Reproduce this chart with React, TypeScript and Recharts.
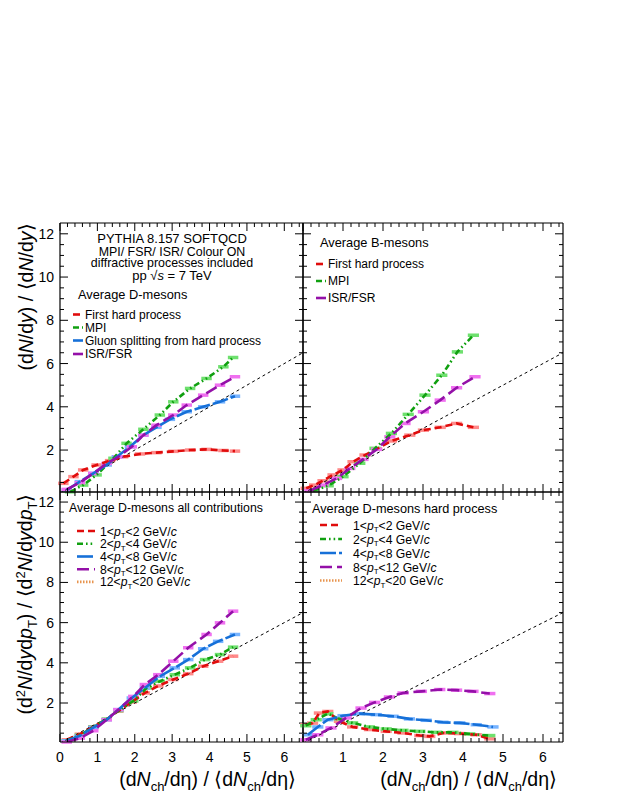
import React from 'react';
import { ComposedChart, Line, Scatter, ErrorBar, XAxis, YAxis } from 'recharts';

const FONT = '"Liberation Sans", Arial, Helvetica, sans-serif';

// ---------- axes ----------
const X_TICKS = [0, 0.2, 0.4, 0.6, 0.8, 1, 1.2, 1.4, 1.6, 1.8, 2, 2.2, 2.4, 2.6, 2.8, 3, 3.2, 3.4, 3.6, 3.8, 4, 4.2, 4.4, 4.6, 4.8, 5, 5.2, 5.4, 5.6, 5.8, 6, 6.2, 6.4];
const Y_TICKS = [0.5, 1, 1.5, 2, 2.5, 3, 3.5, 4, 4.5, 5, 5.5, 6, 6.5, 7, 7.5, 8, 8.5, 9, 9.5, 10, 10.5, 11, 11.5, 12];
const X_LABELS_LEFT = [0, 1, 2, 3, 4, 5, 6];
const X_LABELS_RIGHT = [1, 2, 3, 4, 5, 6];
const Y_LABELS = [2, 4, 6, 8, 10, 12];
const X_DOMAIN: [number, number] = [0, 6.5];
const Y_DOMAIN: [number, number] = [0.06, 12.5];
const BIN_HALF = 0.14; // half width of the bin boxes

// reference y = x
const DIAG_X = [0, 6.5];
const DIAG_Y = [0, 6.5];

// ---------- top-left: average D-mesons ----------
const D_FIRST_X = [0.09, 0.36, 0.62, 0.98, 1.34, 1.69, 2.14, 2.58, 3.03, 3.48, 3.92, 4.37, 4.68];
const D_FIRST_Y = [0.46, 0.77, 1.08, 1.31, 1.51, 1.69, 1.82, 1.88, 1.94, 2.0, 2.03, 1.98, 1.95];
const D_MPI_X = [0.27, 0.62, 0.98, 1.43, 1.78, 2.23, 2.67, 3.03, 3.48, 3.92, 4.37, 4.63];
const D_MPI_Y = [0.07, 0.38, 0.85, 1.62, 2.31, 2.96, 3.62, 4.23, 4.85, 5.31, 5.85, 6.28];
const D_GLUON_X = [0.18, 0.53, 0.89, 1.25, 1.52, 1.87, 2.23, 2.58, 2.94, 3.39, 3.83, 4.28, 4.68];
const D_GLUON_Y = [0.15, 0.54, 0.92, 1.31, 1.69, 2.15, 2.69, 3.05, 3.42, 3.77, 4.0, 4.23, 4.49];
const D_ISR_X = [0.18, 0.53, 0.89, 1.25, 1.56, 1.92, 2.23, 2.58, 3.03, 3.39, 3.83, 4.28, 4.68];
const D_ISR_Y = [0.18, 0.49, 0.92, 1.38, 1.69, 2.15, 2.69, 3.15, 3.62, 4.08, 4.54, 5.0, 5.39];

// ---------- top-right: average B-mesons ----------
const B_FIRST_X = [0.08, 0.29, 0.5, 0.75, 1.0, 1.25, 1.55, 1.84, 2.21, 2.67, 3.01, 3.43, 3.84, 4.26];
const B_FIRST_Y = [0.23, 0.38, 0.58, 0.85, 1.08, 1.46, 1.77, 2.05, 2.42, 2.69, 2.92, 3.05, 3.23, 3.05];
const B_MPI_X = [0.25, 0.63, 1.0, 1.42, 1.8, 2.21, 2.63, 3.05, 3.47, 3.86, 4.26];
const B_MPI_Y = [0.12, 0.35, 0.77, 1.39, 2.08, 2.77, 3.65, 4.54, 5.46, 6.54, 7.31];
const B_ISR_X = [0.17, 0.5, 0.84, 1.17, 1.5, 1.84, 2.17, 2.55, 3.01, 3.43, 3.84, 4.3];
const B_ISR_Y = [0.12, 0.38, 0.69, 1.15, 1.57, 2.03, 2.61, 3.23, 3.77, 4.31, 4.88, 5.39];

// ---------- bottom-left: D-mesons all contributions, pT bins ----------
const A_PT1_X = [0.18, 0.53, 0.89, 1.25, 1.56, 1.92, 2.27, 2.63, 3.03, 3.43, 3.83, 4.23, 4.63];
const A_PT1_Y = [0.17, 0.45, 0.82, 1.18, 1.6, 2.05, 2.5, 2.85, 3.17, 3.46, 3.83, 4.08, 4.33];
const A_PT2_X = [0.18, 0.53, 0.89, 1.25, 1.56, 1.96, 2.32, 2.67, 3.07, 3.48, 3.88, 4.28, 4.63];
const A_PT2_Y = [0.12, 0.4, 0.8, 1.2, 1.62, 2.1, 2.75, 3.08, 3.41, 3.75, 4.16, 4.41, 4.78];
const A_PT3_X = [0.18, 0.53, 0.89, 1.25, 1.56, 1.92, 2.27, 2.67, 3.07, 3.43, 3.83, 4.23, 4.68];
const A_PT3_Y = [0.12, 0.37, 0.78, 1.17, 1.67, 2.25, 2.75, 3.33, 3.75, 4.16, 4.7, 5.07, 5.41];
const A_PT4_X = [0.18, 0.53, 0.89, 1.25, 1.56, 1.96, 2.27, 2.63, 3.03, 3.43, 3.92, 4.28, 4.63];
const A_PT4_Y = [0.06, 0.25, 0.62, 1.17, 1.67, 2.33, 2.92, 3.41, 4.08, 4.75, 5.41, 5.99, 6.57];

// ---------- bottom-right: D-mesons hard process, pT bins ----------
const H_PT1_X = [0.07, 0.24, 0.41, 0.62, 0.91, 1.24, 1.66, 2.08, 2.5, 2.92, 3.17, 3.5, 3.92, 4.33, 4.67];
const H_PT1_Y = [0.92, 1.0, 1.5, 1.58, 1.09, 0.81, 0.68, 0.59, 0.51, 0.38, 0.34, 0.51, 0.48, 0.42, 0.22];
const H_PT2_X = [0.07, 0.33, 0.62, 0.91, 1.24, 1.66, 2.08, 2.5, 2.92, 3.34, 3.75, 4.17, 4.67];
const H_PT2_Y = [0.87, 1.17, 1.47, 1.21, 1.01, 0.81, 0.71, 0.64, 0.59, 0.54, 0.54, 0.46, 0.38];
const H_PT3_X = [0.12, 0.37, 0.62, 1.0, 1.41, 1.83, 2.25, 2.66, 3.08, 3.5, 3.92, 4.33, 4.75];
const H_PT3_Y = [0.42, 0.81, 1.17, 1.37, 1.47, 1.42, 1.34, 1.21, 1.14, 1.04, 1.01, 0.92, 0.81];
const H_PT4_X = [0.07, 0.37, 0.7, 1.08, 1.45, 1.79, 2.16, 2.5, 2.96, 3.42, 3.84, 4.25, 4.67];
const H_PT4_Y = [0.17, 0.42, 0.76, 1.26, 1.75, 2.03, 2.3, 2.5, 2.58, 2.67, 2.64, 2.58, 2.47];

// ---------- styles ----------
type Sty = { stroke: string; dash: string; box: string };
const RED: Sty = { stroke: '#e00c0c', dash: '7 4', box: '#ff8a8a' };
const GREEN: Sty = { stroke: '#10a010', dash: '6 3 1.6 3 1.6 3', box: '#6ee06e' };
const BLUE: Sty = { stroke: '#1670d8', dash: '16 3', box: '#78b4ff' };
const PURPLE: Sty = { stroke: '#9410a8', dash: '12 5', box: '#f070f0' };
const ORANGE: Sty = { stroke: '#e8944e', dash: '1.5 1.5', box: '#f8c090' };

const zip = (xs: number[], ys: number[]) => xs.map((x, i) => ({ x, y: ys[i], ex: BIN_HALF }));

type Series = { name: string; data: { x: number; y: number; ex: number }[]; sty: Sty };

const TL: Series[] = [
  { name: 'First hard process', data: zip(D_FIRST_X, D_FIRST_Y), sty: RED },
  { name: 'MPI', data: zip(D_MPI_X, D_MPI_Y), sty: GREEN },
  { name: 'Gluon splitting', data: zip(D_GLUON_X, D_GLUON_Y), sty: BLUE },
  { name: 'ISR/FSR', data: zip(D_ISR_X, D_ISR_Y), sty: PURPLE },
];
const TR: Series[] = [
  { name: 'First hard process', data: zip(B_FIRST_X, B_FIRST_Y), sty: RED },
  { name: 'MPI', data: zip(B_MPI_X, B_MPI_Y), sty: GREEN },
  { name: 'ISR/FSR', data: zip(B_ISR_X, B_ISR_Y), sty: PURPLE },
];
const BL: Series[] = [
  { name: 'pt1', data: zip(A_PT1_X, A_PT1_Y), sty: RED },
  { name: 'pt2', data: zip(A_PT2_X, A_PT2_Y), sty: GREEN },
  { name: 'pt3', data: zip(A_PT3_X, A_PT3_Y), sty: BLUE },
  { name: 'pt4', data: zip(A_PT4_X, A_PT4_Y), sty: PURPLE },
];
const BR: Series[] = [
  { name: 'pt1', data: zip(H_PT1_X, H_PT1_Y), sty: RED },
  { name: 'pt2', data: zip(H_PT2_X, H_PT2_Y), sty: GREEN },
  { name: 'pt3', data: zip(H_PT3_X, H_PT3_Y), sty: BLUE },
  { name: 'pt4', data: zip(H_PT4_X, H_PT4_Y), sty: PURPLE },
];
const DIAG = zip(DIAG_X, DIAG_Y);

// ---------- ticks ----------
type Side = 'bottom' | 'top' | 'left' | 'right';
function makeTick(side: Side, labels: number[], majorStep: number) {
  return (props: any) => {
    const { x, y, payload } = props;
    const v = Number(payload.value);
    const major = Math.abs(v / majorStep - Math.round(v / majorStep)) < 1e-6;
    const len = major ? 8 : 4;
    let x2 = x;
    let y2 = y;
    if (side === 'bottom') y2 = y - len;
    if (side === 'top') y2 = y + len;
    if (side === 'left') x2 = x + len;
    if (side === 'right') x2 = x - len;
    const lab = labels.some((l) => Math.abs(l - v) < 1e-6);
    return (
      <g>
        <line x1={x} y1={y} x2={x2} y2={y2} stroke="#000" strokeWidth={1} />
        {lab && side === 'bottom' && (
          <text x={x} y={y + 20} textAnchor="middle" fontSize={14} fontFamily={FONT} fill="#000">
            {v}
          </text>
        )}
        {lab && side === 'left' && (
          <text x={x - 6} y={y + 5} textAnchor="end" fontSize={14} fontFamily={FONT} fill="#000">
            {v}
          </text>
        )}
      </g>
    );
  };
}

const AXIS = { stroke: '#000', strokeWidth: 1.2 };
const NoShape = () => <g />;

function Panel(p: { left: number; top: number; w: number; h: number; series: Series[]; xLabels: number[]; yLabels: number[] }) {
  const L = 60, T = 10, R = 10, B = 50;
  return (
    <div style={{ position: 'absolute', left: p.left - L, top: p.top - T }}>
      <ComposedChart width={p.w + L + R} height={p.h + T + B} margin={{ top: 0, right: 0, bottom: 0, left: 0 }}>
        <XAxis xAxisId="b" type="number" dataKey="x" domain={X_DOMAIN} allowDataOverflow ticks={X_TICKS} interval={0}
          orientation="bottom" height={B} tickSize={0} tickMargin={0} axisLine={AXIS} tickLine={false}
          tick={makeTick('bottom', p.xLabels, 1)} />
        <XAxis xAxisId="t" type="number" dataKey="x" domain={X_DOMAIN} allowDataOverflow ticks={X_TICKS} interval={0}
          orientation="top" height={T} tickSize={0} tickMargin={0} axisLine={AXIS} tickLine={false}
          tick={makeTick('top', [], 1)} />
        <YAxis yAxisId="l" type="number" dataKey="y" domain={Y_DOMAIN} allowDataOverflow ticks={Y_TICKS} interval={0}
          orientation="left" width={L} tickSize={0} tickMargin={0} axisLine={AXIS} tickLine={false}
          tick={makeTick('left', p.yLabels, 2)} />
        <YAxis yAxisId="r" type="number" dataKey="y" domain={Y_DOMAIN} allowDataOverflow ticks={Y_TICKS} interval={0}
          orientation="right" width={R} tickSize={0} tickMargin={0} axisLine={AXIS} tickLine={false}
          tick={makeTick('right', [], 2)} />
        {p.series.map((s) => (
          <Scatter key={'box' + s.name} data={s.data} dataKey="y" xAxisId="b" yAxisId="l" shape={NoShape}
            isAnimationActive={false}>
            <ErrorBar dataKey="ex" direction="x" width={0} stroke={s.sty.box} strokeWidth={3.5} isAnimationActive={false} />
          </Scatter>
        ))}
        <Line data={DIAG} dataKey="y" xAxisId="b" yAxisId="l" type="linear" stroke="#000" strokeWidth={1}
          strokeDasharray="3 3" dot={false} activeDot={false} isAnimationActive={false} />
        {p.series.map((s) => (
          <Line key={s.name} data={s.data} dataKey="y" xAxisId="b" yAxisId="l" type="linear" stroke={s.sty.stroke}
            strokeWidth={2.6} strokeDasharray={s.sty.dash} dot={false} activeDot={false} isAnimationActive={false} />
        ))}
      </ComposedChart>
    </div>
  );
}

// ---------- text helpers ----------
const Tx = (props: any) => <text fontFamily={FONT} fill="#000" {...props} />;

const LegLine = ({ x1, x2, y, sty }: { x1: number; x2: number; y: number; sty: Sty }) => (
  <line x1={x1} x2={x2} y1={y} y2={y} stroke={sty.stroke} strokeWidth={2.6} strokeDasharray={sty.dash} />
);

const PtText = ({ x, y, lo, hi }: { x: number; y: number; lo: number; hi: number }) => (
  <Tx x={x} y={y} fontSize={12.2}>
    {`${lo}<`}
    <tspan fontStyle="italic">p</tspan>
    <tspan dy={2.5} fontSize={8}>T</tspan>
    <tspan dy={-2.5}>{`<${hi} GeV/`}</tspan>
    <tspan fontStyle="italic">c</tspan>
  </Tx>
);

const PT_LO = [1, 2, 4, 8, 12];
const PT_HI = [2, 4, 8, 12, 20];
const PT_STY = [RED, GREEN, BLUE, PURPLE, ORANGE];

function Overlay() {
  const blRows = [535.5, 548.2, 561, 573.7, 586.4];
  const brRows = [529.5, 543.5, 557.5, 571.5, 585];
  return (
    <svg width={623} height={806} style={{ position: 'absolute', left: 0, top: 0, pointerEvents: 'none' }}>
      {/* top-left header */}
      <Tx x={172} y={243.3} fontSize={13} textAnchor="middle">PYTHIA 8.157 SOFTQCD</Tx>
      <Tx x={172} y={256.3} fontSize={12.4} textAnchor="middle">MPI/ FSR/ ISR/ Colour ON</Tx>
      <Tx x={172} y={267.2} fontSize={12.4} textAnchor="middle">diffractive processes included</Tx>
      <Tx x={172} y={280} fontSize={13} textAnchor="middle">
        pp √<tspan fontStyle="italic">s</tspan> = 7 TeV
      </Tx>
      <Tx x={78} y={298.5} fontSize={12.8}>Average D-mesons</Tx>
      <LegLine x1={73} x2={83} y={314.5} sty={RED} />
      <Tx x={85} y={318.5} fontSize={12}>First hard process</Tx>
      <LegLine x1={73} x2={83} y={327.5} sty={GREEN} />
      <Tx x={85} y={331.5} fontSize={12}>MPI</Tx>
      <LegLine x1={73} x2={83} y={340.5} sty={BLUE} />
      <Tx x={85} y={344.5} fontSize={12}>Gluon splitting from hard process</Tx>
      <LegLine x1={73} x2={83} y={354} sty={PURPLE} />
      <Tx x={85} y={358} fontSize={12}>ISR/FSR</Tx>

      {/* top-right */}
      <Tx x={320} y={247} fontSize={12.8}>Average B-mesons</Tx>
      <LegLine x1={316} x2={325} y={264} sty={RED} />
      <Tx x={328} y={268} fontSize={12}>First hard process</Tx>
      <LegLine x1={316} x2={326} y={281} sty={GREEN} />
      <Tx x={328} y={285} fontSize={12}>MPI</Tx>
      <LegLine x1={316} x2={326} y={298} sty={PURPLE} />
      <Tx x={328} y={302} fontSize={12}>ISR/FSR</Tx>

      {/* bottom-left */}
      <Tx x={69} y={512} fontSize={12.3}>Average D-mesons all contributions</Tx>
      {PT_LO.map((lo, i) => (
        <g key={'bl' + i}>
          <LegLine x1={77} x2={95} y={blRows[i] - 4.5} sty={PT_STY[i]} />
          <PtText x={100} y={blRows[i]} lo={lo} hi={PT_HI[i]} />
        </g>
      ))}

      {/* bottom-right */}
      <Tx x={312} y={513} fontSize={12.7}>Average D-mesons hard process</Tx>
      {PT_LO.map((lo, i) => (
        <g key={'br' + i}>
          <LegLine x1={320} x2={342} y={brRows[i] - 4.5} sty={PT_STY[i]} />
          <PtText x={353} y={brRows[i]} lo={lo} hi={PT_HI[i]} />
        </g>
      ))}

      {/* axis titles */}
      <Tx transform="translate(33,297) rotate(-90)" fontSize={19.5} textAnchor="middle">
        (d<tspan fontStyle="italic">N</tspan>/d<tspan fontStyle="italic">y</tspan>) / ⟨d<tspan fontStyle="italic">N</tspan>/d<tspan fontStyle="italic">y</tspan>⟩
      </Tx>
      <Tx transform="translate(32,604) rotate(-90)" fontSize={19.5} textAnchor="middle">
        (d<tspan dy={-7} fontSize={13}>2</tspan><tspan dy={7} fontStyle="italic">N</tspan>/d<tspan fontStyle="italic">y</tspan>d<tspan fontStyle="italic">p</tspan><tspan dy={5} fontSize={13}>T</tspan><tspan dy={-5}>) / ⟨d</tspan><tspan dy={-7} fontSize={13}>2</tspan><tspan dy={7} fontStyle="italic">N</tspan>/d<tspan fontStyle="italic">y</tspan>d<tspan fontStyle="italic">p</tspan><tspan dy={5} fontSize={13}>T</tspan><tspan dy={-5}>⟩</tspan>
      </Tx>
      {[296, 557].map((xe, i) => (
        <Tx key={'xt' + i} x={xe} y={786} fontSize={19.5} textAnchor="end">
          (d<tspan fontStyle="italic">N</tspan><tspan dy={5} fontSize={13}>ch</tspan><tspan dy={-5}>/dη) / ⟨d</tspan><tspan fontStyle="italic">N</tspan><tspan dy={5} fontSize={13}>ch</tspan><tspan dy={-5}>/dη⟩</tspan>
        </Tx>
      ))}
    </svg>
  );
}

export default function App() {
  return (
    <div style={{ position: 'absolute', left: 0, top: 0, width: 623, height: 806, background: '#fff', overflow: 'hidden', fontFamily: FONT }}>
      <Panel left={60} top={223} w={243} h={269} series={TL} xLabels={[]} yLabels={Y_LABELS} />
      <Panel left={303} top={223} w={260} h={269} series={TR} xLabels={[]} yLabels={[]} />
      <Panel left={60} top={492} w={243} h={250} series={BL} xLabels={X_LABELS_LEFT} yLabels={Y_LABELS} />
      <Panel left={303} top={492} w={260} h={250} series={BR} xLabels={X_LABELS_RIGHT} yLabels={[]} />
      <Overlay />
    </div>
  );
}
